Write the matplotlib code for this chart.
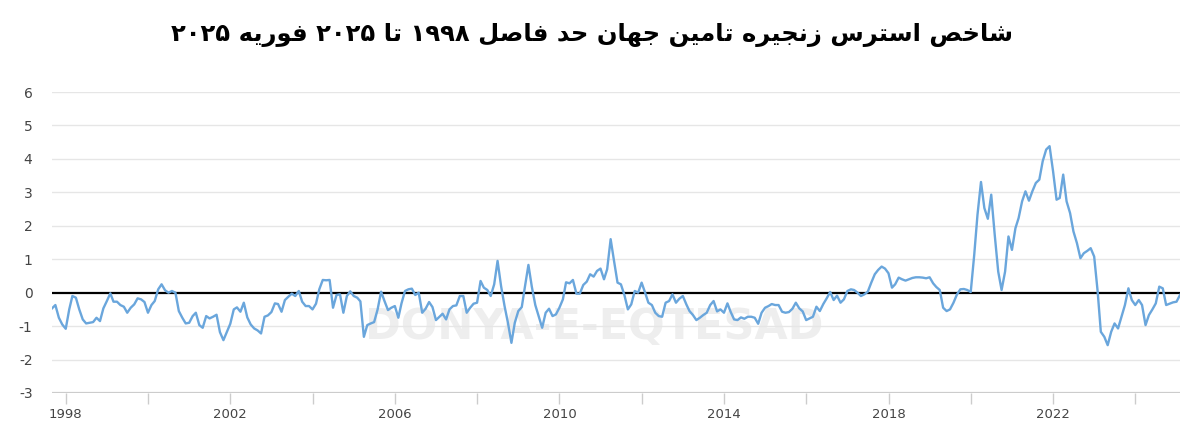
import re
import numpy as np
import pandas as pd
from matplotlib import pyplot as plt
import matplotlib.dates as mdates

#---------------
# Data, monthly from Sep 1997 to Feb 2025
#---------------
start_month = '1997-09-01'
gscpi = [
    # 1997-09 .. 2001-03
    -0.47, -0.37, -0.75, -0.95, -1.08, -0.50, -0.10, -0.15, -0.50, -0.80,
    -0.92, -0.90, -0.88, -0.75, -0.85, -0.47, -0.25, -0.02, -0.27, -0.27,
    -0.37, -0.42, -0.60, -0.45, -0.35, -0.17, -0.20, -0.28, -0.60, -0.37,
    -0.25, 0.10, 0.25, 0.07, 0.00, 0.05, 0.00, -0.55, -0.75, -0.92,
    -0.90, -0.70, -0.60,
    # 2001-04 ..
    -0.97, -1.05, -0.70, -0.77, -0.72, -0.66, -1.18, -1.42, -1.18, -0.93,
    -0.50, -0.44, -0.57, -0.30, -0.74, -0.95, -1.07, -1.13, -1.22, -0.72,
    -0.68, -0.58, -0.32, -0.34, -0.57, -0.22, -0.12, -0.03, -0.10, 0.05,
    -0.27, -0.40, -0.40, -0.50, -0.33, 0.10, 0.38, 0.37, 0.38, -0.45,
    -0.07,
    # 2004-09 ..
    -0.05, -0.60, -0.10, 0.04, -0.10, -0.15, -0.26, -1.32, -0.97, -0.92,
    -0.88, -0.50, 0.03, -0.25, -0.52, -0.45, -0.40, -0.75, -0.32, 0.05,
    0.10, 0.12, -0.07, 0.00, -0.60, -0.48, -0.28, -0.43, -0.82, -0.72,
    -0.63, -0.80, -0.50, -0.40, -0.38, -0.10, -0.10, -0.60, -0.45, -0.33,
    # 2008-01 ..
    -0.30, 0.35, 0.15, 0.08, -0.10, 0.25, 0.95, 0.20, -0.40, -0.90,
    -1.50, -0.90, -0.55, -0.43, 0.18, 0.83, 0.18, -0.37, -0.70, -1.05,
    -0.60, -0.48, -0.70, -0.65, -0.45, -0.20, 0.31, 0.28, 0.38, -0.03,
    -0.03, 0.23, 0.33, 0.55, 0.48, 0.65, 0.72, 0.40, 0.70, 1.60,
    0.95,
    # 2011-06 ..
    0.30, 0.25, -0.07, -0.50, -0.35, 0.05, 0.00, 0.30, 0.00, -0.30,
    -0.37, -0.60, -0.70, -0.72, -0.30, -0.25, -0.05, -0.30, -0.18, -0.10,
    -0.35, -0.55, -0.67, -0.82, -0.75, -0.67, -0.60, -0.37, -0.25, -0.56,
    -0.50, -0.60, -0.32, -0.57, -0.80, -0.82, -0.74, -0.78, -0.72, -0.72,
    -0.75,
    # 2014-11 ..
    -0.93, -0.60, -0.45, -0.40, -0.34, -0.37, -0.37, -0.57, -0.60, -0.58,
    -0.48, -0.30, -0.47, -0.56, -0.82, -0.77, -0.72, -0.42, -0.55, -0.34,
    -0.17, 0.02, -0.22, -0.09, -0.30, -0.20, 0.05, 0.10, 0.08, 0.00,
    -0.10, -0.05, 0.03, 0.30, 0.55, 0.68, 0.78, 0.72, 0.58, 0.15,
    0.25,
    # 2018-04 ..
    0.45, 0.40, 0.36, 0.40, 0.44, 0.46, 0.46, 0.45, 0.43, 0.46,
    0.28, 0.17, 0.08, -0.45, -0.55, -0.50, -0.30, -0.05, 0.10, 0.11,
    0.08, 0.02,
    # 2020-02 ..
    1.13, 2.33, 3.31, 2.53, 2.21, 2.93, 1.73, 0.63, 0.08, 0.63,
    1.68, 1.28, 1.93, 2.23, 2.73,
    # 2021-05 ..
    3.03, 2.75, 3.03, 3.28, 3.38, 3.93, 4.28, 4.38, 3.63, 2.78,
    2.83, 3.53, 2.73, 2.38, 1.83, 1.48, 1.03, 1.18, 1.25, 1.33,
    1.08, 0.03, -1.17, -1.32, -1.57, -1.17, -0.92, -1.07, -0.72, -0.37,
    0.13, -0.22, -0.37, -0.22, -0.37, -0.97, -0.67, -0.50, -0.32, 0.18,
    0.13, -0.37, -0.33, -0.29, -0.27, -0.07,
]
dates = pd.date_range(start_month, periods=len(gscpi), freq='MS')

title_fa = 'شاخص استرس زنجیره تامین جهان حد فاصل ۱۹۹۸ تا ۲۰۲۵ فوریه ۲۰۲۵'
y_ticks = list(range(-3, 7))
tick_years = list(range(1998, 2025, 2))
label_years = [1998, 2002, 2006, 2010, 2014, 2018, 2022]

#---------------
# Persian shaping (matplotlib has no bidi / joining of its own)
#---------------
# isolated, final, initial, medial
forms = {
    'ا': ('\uFE8D', '\uFE8E', None, None),
    'ت': ('\uFE95', '\uFE96', '\uFE97', '\uFE98'),
    'ج': ('\uFE9D', '\uFE9E', '\uFE9F', '\uFEA0'),
    'ح': ('\uFEA1', '\uFEA2', '\uFEA3', '\uFEA4'),
    'خ': ('\uFEA5', '\uFEA6', '\uFEA7', '\uFEA8'),
    'د': ('\uFEA9', '\uFEAA', None, None),
    'ر': ('\uFEAD', '\uFEAE', None, None),
    'ز': ('\uFEAF', '\uFEB0', None, None),
    'س': ('\uFEB1', '\uFEB2', '\uFEB3', '\uFEB4'),
    'ش': ('\uFEB5', '\uFEB6', '\uFEB7', '\uFEB8'),
    'ص': ('\uFEB9', '\uFEBA', '\uFEBB', '\uFEBC'),
    'ف': ('\uFED1', '\uFED2', '\uFED3', '\uFED4'),
    'ل': ('\uFEDD', '\uFEDE', '\uFEDF', '\uFEE0'),
    'م': ('\uFEE1', '\uFEE2', '\uFEE3', '\uFEE4'),
    'ن': ('\uFEE5', '\uFEE6', '\uFEE7', '\uFEE8'),
    'ه': ('\uFEE9', '\uFEEA', '\uFEEB', '\uFEEC'),
    'و': ('\uFEED', '\uFEEE', None, None),
    'ی': ('\uFBFC', '\uFBFD', '\uFBFE', '\uFBFF'),
}

def shape_fa(text):
    out = []
    for k, ch in enumerate(text):
        if ch not in forms:
            out.append(ch)
            continue
        prev = text[k - 1] if k > 0 else ''
        nxt = text[k + 1] if k + 1 < len(text) else ''
        join_prev = prev in forms and forms[prev][2] is not None
        join_next = nxt in forms and forms[ch][2] is not None
        iso, fin, ini, med = forms[ch]
        if join_prev and join_next:
            out.append(med)
        elif join_prev:
            out.append(fin)
        elif join_next:
            out.append(ini)
        else:
            out.append(iso)
    s = ''.join(out)[::-1]
    # numbers keep left-to-right order
    return re.sub('[۰-۹]+', lambda m: m.group(0)[::-1], s)

#---------------
# Plot
#---------------
fig = plt.figure(figsize=(12, 4.32), dpi=100)
ax = fig.add_axes([52 / 1200, 39 / 432, 1128 / 1200, 301 / 432])

for v in y_ticks:
    if v == 0:
        ax.axhline(v, color='black', lw=1.6, zorder=2)
    elif v == -3:
        ax.axhline(v, color='#cccccc', lw=1.6, zorder=2)
    else:
        ax.axhline(v, color='#e6e6e6', lw=1.0, zorder=1)

ax.text(0.481, 0.22, 'DONYA-E-EQTESAD', transform=ax.transAxes, ha='center', va='center',
        fontsize=31, fontweight='bold', color='#eeeeee', zorder=0)

ax.plot(dates, gscpi, color='#6aa6dc', lw=1.7, zorder=3)

ax.set_ylim(-3, 6)
ax.set_xlim(dates[0], dates[-1])
ax.set_yticks(y_ticks)
ax.set_yticklabels([str(v) for v in y_ticks])

tick_dates = [pd.Timestamp(year=y, month=1, day=1) for y in tick_years]
ax.set_xticks(tick_dates)
ax.set_xticklabels([str(y) if y in label_years else '' for y in tick_years])

ax.tick_params(axis='y', length=0, pad=14, labelsize=10, labelcolor='#444444')
ax.tick_params(axis='x', length=8, width=1, color='#cccccc', pad=3, labelsize=9.5, labelcolor='#444444')
for side in ['top', 'right', 'left', 'bottom']:
    ax.spines[side].set_visible(False)

fig.text(0.493, 0.918, shape_fa(title_fa), ha='center', va='center', fontsize=17.5,
         fontweight='bold', family=['DejaVu Sans'], color='black')

plt.savefig('out.png', dpi=100)
